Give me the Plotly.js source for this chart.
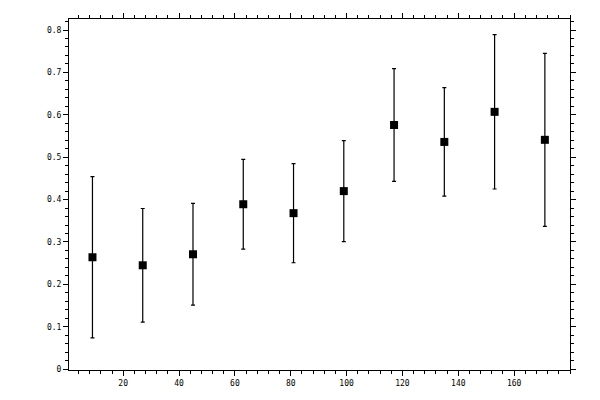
<!DOCTYPE html>
<html>
<head>
<meta charset="utf-8">
<script src="https://cdn.plot.ly/plotly-3.0.1.min.js"></script>
<style>
  html, body { margin: 0; padding: 0; background: #ffffff; }
  #graph { width: 600px; height: 400px; }
</style>
</head>
<body>
<div id="graph"></div>
<script>
"use strict";

// values
const xValues = [9, 27, 45, 63, 81, 99, 117, 135, 153, 171];
const yValues = [0.264, 0.245, 0.271, 0.389, 0.368, 0.420, 0.576, 0.536, 0.607, 0.541];
const yErrors = [0.190, 0.134, 0.120, 0.106, 0.117, 0.119, 0.133, 0.128, 0.182, 0.204];

const tickFont = { family: 'DejaVu Sans Mono, monospace', size: 8, color: '#000000' };

function eksen(aralik, anaAdim, araAdim, ayarlar) {
    return Object.assign({
        range: aralik,
        dtick: anaAdim,
        tick0: 0,
        showgrid: false,
        zeroline: false,
        showline: true,
        linecolor: '#000000',
        linewidth: 1,
        mirror: 'ticks',
        ticks: 'outside',
        ticklen: 5,
        tickwidth: 1,
        tickcolor: '#000000',
        tickfont: tickFont,
        minor: { dtick: araAdim, tick0: 0, ticks: 'outside', ticklen: 3, tickwidth: 1, tickcolor: '#000000', showgrid: false }
    }, ayarlar || {});
}

const traces = [{
    x: xValues,
    y: yValues,
    type: 'scatter',
    mode: 'markers',
    marker: { symbol: 'square', size: 8, color: '#000000' },
    error_y: { type: 'data', array: yErrors, visible: true, color: '#000000', thickness: 1.2, width: 2 },
    showlegend: false,
    hoverinfo: 'x+y'
}];

const layout = {
    width: 600,
    height: 400,
    margin: { l: 69, r: 30, t: 19, b: 30 },
    paper_bgcolor: '#ffffff',
    plot_bgcolor: '#ffffff',
    xaxis: eksen([0.6, 180], 20, 4, { tickvals: [20, 40, 60, 80, 100, 120, 140, 160], ticktext: ['20', '40', '60', '80', '100', '120', '140', '160'] }),
    yaxis: eksen([-0.002, 0.826], 0.1, 0.02, { tickvals: [0, 0.1, 0.2, 0.3, 0.4, 0.5, 0.6, 0.7, 0.8], ticktext: ['0', '0.1', '0.2', '0.3', '0.4', '0.5', '0.6', '0.7', '0.8'] })
};

Plotly.newPlot('graph', traces, layout, { staticPlot: true, displayModeBar: false }).catch(err => {
    console.error("Grafik çizilirken hata:", err);
});
</script>
</body>
</html>
